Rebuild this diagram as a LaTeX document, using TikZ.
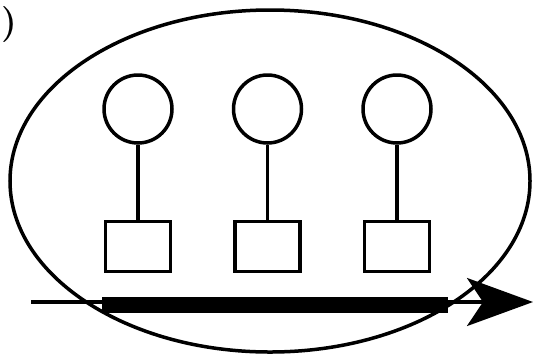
\documentclass[tikz,border=0pt]{standalone}
\usetikzlibrary{arrows.meta}

\begin{document}
\begin{tikzpicture}[
    x=1pt, y=-1pt,
    line width=3.5pt,
    unit/.style={circle, draw, minimum size=68pt, inner sep=0pt},
    cell/.style={rectangle, draw, minimum width=65pt, minimum height=50pt, inner sep=0pt},
    link/.style={line width=3.5pt},
]
\useasboundingbox (0,0) rectangle (534,354);

\node[font=\fontsize{36}{38}\selectfont\bfseries, anchor=west, inner sep=0pt] (lbl) at (0,25) {)};

\draw (270,181) ellipse [x radius=260, y radius=171];

\node[unit] (c1) at (138,109) {};
\node[unit] (c2) at (267.5,109) {};
\node[unit] (c3) at (397,109) {};

\node[cell] (s1) at (138,246.5) {};
\node[cell] (s2) at (267.5,246.5) {};
\node[cell] (s3) at (397,246.5) {};

\draw[link] (c1) -- (s1);
\draw[link] (c2) -- (s2);
\draw[link] (c3) -- (s3);

\coordinate (start) at (31,302);
\coordinate (stop) at (533,302);
\coordinate (barL) at (102,305);
\coordinate (barR) at (448,305);

\draw[line width=16pt] (barL) -- (barR);
\draw[-{Stealth[length=66pt, width=48pt, inset=16pt]}] (start) -- (stop);
\end{tikzpicture}
\end{document}
